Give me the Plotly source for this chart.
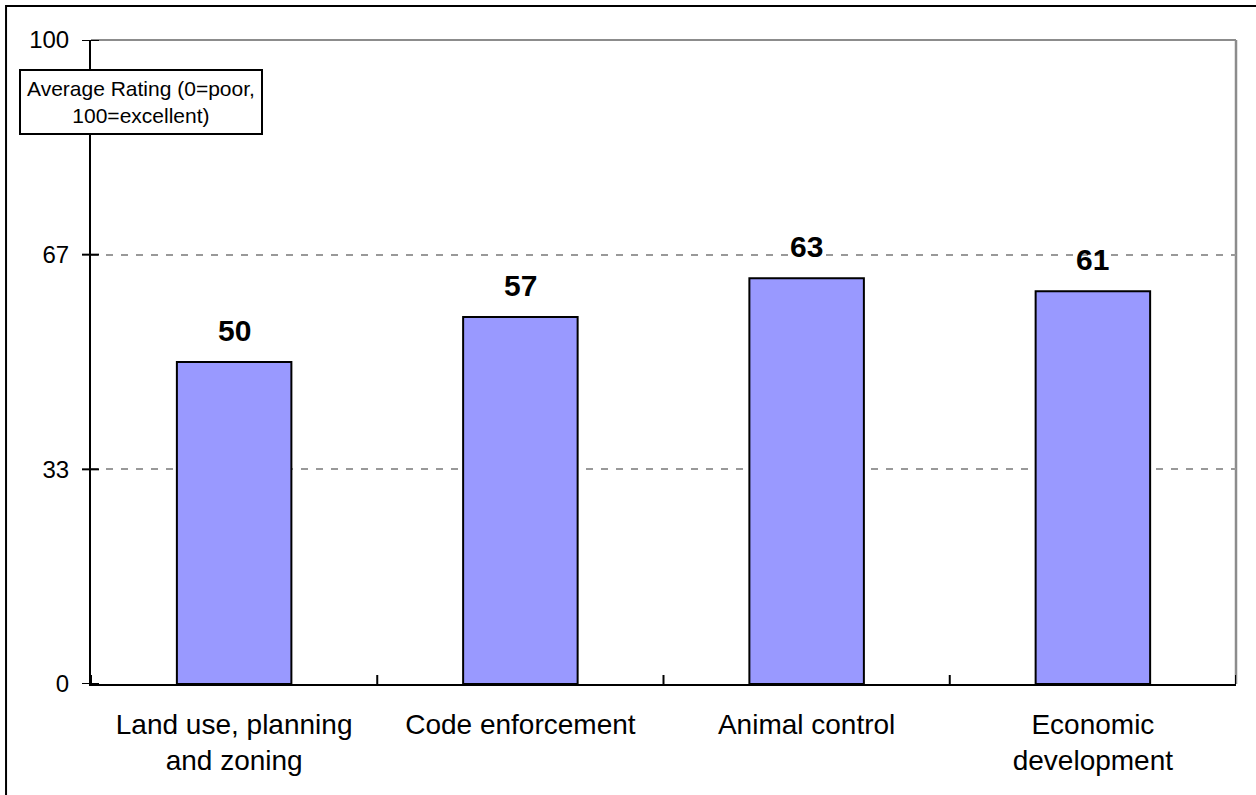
import plotly.graph_objects as go

categories = ["Land use, planning<br>and zoning", "Code enforcement", "Animal control", "Economic<br>development"]
ratings = [50, 57, 63, 61]
rating_labels = ["50", "57", "63", "61"]
y_tick_vals = [0, 100 / 3, 200 / 3, 100]
y_tick_text = ["0", "33", "67", "100"]
axis_note = "Average Rating (0=poor,<br>100=excellent)"

FONT = "Arial, 'Liberation Sans', sans-serif"

fig = go.Figure()
fig.add_trace(go.Bar(
    x=categories, y=ratings, width=0.4,
    marker=dict(color="#9999FF", line=dict(color="black", width=2)),
    hoverinfo="skip",
))

# value labels above bars
for c, v, t in zip(categories, ratings, rating_labels):
    fig.add_annotation(x=c, y=v, text=f"<b>{t}</b>", showarrow=False,
                       yanchor="bottom", yshift=13,
                       font=dict(family=FONT, size=30, color="black"))

# axis note box
fig.add_annotation(xref="paper", yref="paper", x=0.0437, y=0.9045,
                   xanchor="center", yanchor="middle", text=axis_note,
                   showarrow=False, bgcolor="white", bordercolor="black",
                   borderwidth=2, borderpad=6,
                   font=dict(family=FONT, size=21, color="black"))

shapes = []
# plot area border top/right in gray
shapes.append(dict(type="line", xref="paper", yref="paper", x0=1, x1=1, y0=0, y1=1,
                   line=dict(color="#8c8c8c", width=2.5), layer="below"))
shapes.append(dict(type="line", xref="paper", yref="paper", x0=0, x1=1, y0=1, y1=1,
                   line=dict(color="#8c8c8c", width=2), layer="below"))
# x tick marks crossing axis at category boundaries
n = len(categories)
for i in range(n + 1):
    shapes.append(dict(type="line", xref="x", yref="y", ysizemode="pixel", yanchor=0,
                       x0=i - 0.5, x1=i - 0.5, y0=-9, y1=9,
                       line=dict(color="black", width=2)))
# y tick marks crossing axis
for v in y_tick_vals:
    shapes.append(dict(type="line", xref="paper", yref="y", xsizemode="pixel", xanchor=0,
                       x0=-9, x1=8, y0=v, y1=v,
                       line=dict(color="black", width=2)))
# outer chart border (top and left visible)
shapes.append(dict(type="rect", xref="paper", yref="paper",
                   x0=-0.0742, x1=1.2, y0=-0.4, y1=1.0528,
                   line=dict(color="black", width=2), fillcolor="rgba(0,0,0,0)"))

fig.update_layout(
    width=1256, height=795,
    margin=dict(l=91, r=20, t=40, b=111),
    paper_bgcolor="white", plot_bgcolor="white",
    showlegend=False, bargap=0.6,
    font=dict(family=FONT, color="black"),
    shapes=shapes,
    xaxis=dict(type="category", range=[-0.5, n - 0.5], showgrid=False,
               showline=True, linecolor="black", linewidth=2, ticks="",
               tickfont=dict(family=FONT, size=28, color="black"),
               ticklabelstandoff=14, zeroline=False, fixedrange=True),
    yaxis=dict(range=[0, 100], tickvals=y_tick_vals, ticktext=y_tick_text,
               showgrid=True, gridcolor="#999999", gridwidth=2, griddash="7px,8px",
               showline=True, linecolor="black", linewidth=2, ticks="",
               tickfont=dict(family=FONT, size=24, color="black"),
               ticklabelstandoff=15, zeroline=False, fixedrange=True),
)

fig.write_html("out.html", config={"displayModeBar": False},
               post_script="document.body.style.margin='0px';document.body.style.overflow='hidden';")
